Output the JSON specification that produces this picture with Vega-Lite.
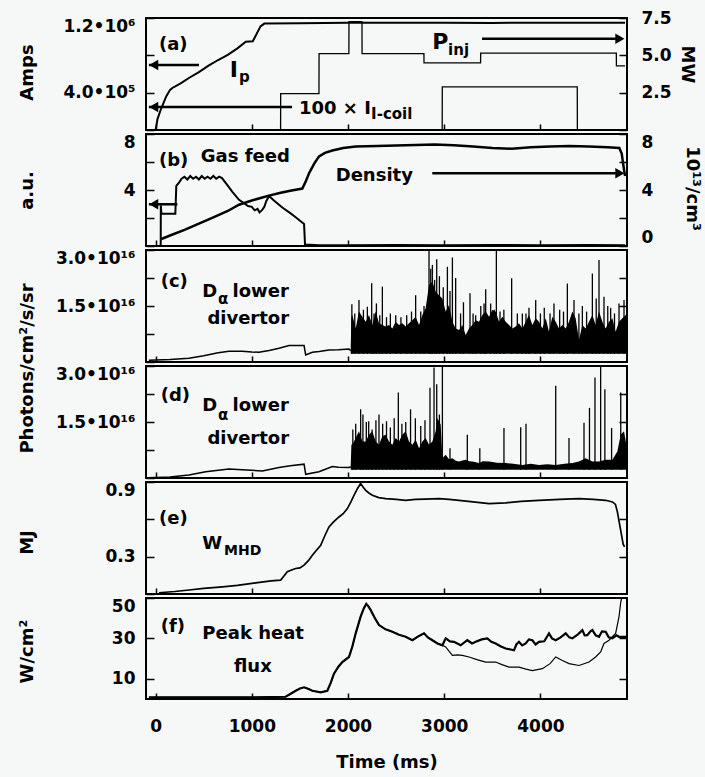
{
  "$schema": "https://vega.github.io/schema/vega-lite/v6.json",
  "background": "#f6f8f7",
  "padding": {"left": 17, "top": 8, "right": 5, "bottom": 5},
  "bounds": "flush",
  "spacing": 4,
  "config": {
    "font": "DejaVu Sans",
    "view": {"stroke": "#000", "strokeWidth": 2},
    "axis": {"domain": false, "grid": false, "tickColor": "#000", "tickWidth": 1.5, "labelColor": "#000", "titleColor": "#000", "labelFont": "DejaVu Sans", "titleFont": "DejaVu Sans", "labelFontWeight": "bold", "titleFontWeight": "bold", "labelFontSize": 17, "titleFontSize": 18},
    "axisLeft": {"tickSize": -8, "labelPadding": 19, "labelFlush": true},
    "axisRight": {"tickSize": -8, "labelPadding": 22},
    "axisBottom": {"tickSize": -6, "labelPadding": 25},
    "text": {"font": "DejaVu Sans", "fontWeight": "bold", "fontSize": 18, "color": "#000", "align": "left", "baseline": "middle"},
    "line": {"color": "#000", "strokeWidth": 1.5},
    "rule": {"color": "#000"},
    "area": {"color": "#000"},
    "point": {"color": "#000", "filled": true, "opacity": 1}
  },
  "datasets": {
    "ip": [{"t":0,"amps":0},{"t":20,"amps":120000},{"t":56,"amps":225000},{"t":110,"amps":360000},{"t":150,"amps":430000},{"t":174,"amps":450000},{"t":260,"amps":500000},{"t":350,"amps":560000},{"t":450,"amps":620000},{"t":550,"amps":690000},{"t":650,"amps":750000},{"t":750,"amps":805000},{"t":850,"amps":875000},{"t":937,"amps":945000},{"t":1010,"amps":950000},{"t":1050,"amps":1030000},{"t":1090,"amps":1110000},{"t":1130,"amps":1140000},{"t":1500,"amps":1145000},{"t":2000,"amps":1148000},{"t":2500,"amps":1150000},{"t":3000,"amps":1150000},{"t":3500,"amps":1147000},{"t":4000,"amps":1150000},{"t":4500,"amps":1150000},{"t":4880,"amps":1148000}],
    "icoil": [{"t":0,"amps":0},{"t":2979,"amps":0},{"t":2980,"amps":461000},{"t":4383,"amps":461000},{"t":4384,"amps":0},{"t":4880,"amps":0}],
    "pinj": [{"t":0,"mw":0},{"t":1299,"mw":0},{"t":1300,"mw":2.43},{"t":1698,"mw":2.43},{"t":1699,"mw":5.11},{"t":2009,"mw":5.11},{"t":2010,"mw":7.25},{"t":2145,"mw":7.25},{"t":2146,"mw":5.11},{"t":2789,"mw":5.11},{"t":2790,"mw":4.5},{"t":3378,"mw":4.5},{"t":3379,"mw":5.15},{"t":4789,"mw":5.15},{"t":4790,"mw":4.3},{"t":4880,"mw":4.3}],
    "aArrows": [{"t":451,"t2":-70,"amps":696000},{"t":1418,"t2":-70,"amps":246000},{"t":3393,"t2":4835,"amps":978000}],
    "aHeads": [{"t":-20,"amps":696000,"dir":"left"},{"t":-20,"amps":246000,"dir":"left"},{"t":4826,"amps":978000,"dir":"right"}],
    "aText": [{"t":35,"amps":916000,"label":"(a)","kind":"main"},{"t":1490,"amps":225000,"label":"100 × I","kind":"main"},{"t":770,"amps":648000,"label":"I","kind":"big"},{"t":2876,"amps":948000,"label":"P","kind":"big"},{"t":867,"amps":568000,"label":"p","kind":"sub"},{"t":3040,"amps":857000,"label":"inj","kind":"sub"},{"t":2240,"amps":171000,"label":"I-coil","kind":"sub"}],
    "gas": [{"t":53,"v":0.05},{"t":54,"v":2.9},{"t":60,"v":2.3},{"t":205,"v":2.3},{"t":215,"v":4.3},{"t":245,"v":4.55},{"t":270,"v":4.8},{"t":300,"v":4.95},{"t":330,"v":4.75},{"t":360,"v":5.0},{"t":390,"v":4.8},{"t":420,"v":4.95},{"t":450,"v":4.75},{"t":480,"v":5.0},{"t":510,"v":4.8},{"t":540,"v":4.95},{"t":570,"v":4.8},{"t":600,"v":5.0},{"t":630,"v":4.8},{"t":660,"v":4.95},{"t":690,"v":4.85},{"t":740,"v":4.4},{"t":800,"v":3.85},{"t":867,"v":3.3},{"t":920,"v":3.05},{"t":960,"v":2.85},{"t":1000,"v":2.8},{"t":1030,"v":2.55},{"t":1060,"v":2.65},{"t":1080,"v":2.4},{"t":1110,"v":2.6},{"t":1130,"v":2.8},{"t":1150,"v":3.2},{"t":1179,"v":3.57},{"t":1230,"v":3.25},{"t":1317,"v":2.75},{"t":1400,"v":2.35},{"t":1456,"v":2.05},{"t":1543,"v":1.58},{"t":1553,"v":0.1},{"t":1700,"v":0.06},{"t":2000,"v":0.05},{"t":2500,"v":0.08},{"t":3000,"v":0.05},{"t":3500,"v":0.08},{"t":4000,"v":0.06},{"t":4500,"v":0.08},{"t":4880,"v":0.06}],
    "dens": [{"t":60,"v":0.5},{"t":150,"v":0.75},{"t":300,"v":1.15},{"t":450,"v":1.6},{"t":600,"v":2.05},{"t":750,"v":2.5},{"t":867,"v":2.95},{"t":1000,"v":3.25},{"t":1100,"v":3.45},{"t":1179,"v":3.6},{"t":1300,"v":3.8},{"t":1400,"v":3.95},{"t":1525,"v":4.1},{"t":1560,"v":4.6},{"t":1595,"v":5.2},{"t":1650,"v":5.9},{"t":1699,"v":6.4},{"t":1760,"v":6.65},{"t":1837,"v":6.82},{"t":1950,"v":7.0},{"t":2080,"v":7.1},{"t":2300,"v":7.15},{"t":2600,"v":7.2},{"t":2900,"v":7.25},{"t":3100,"v":7.2},{"t":3300,"v":7.1},{"t":3500,"v":7.0},{"t":3700,"v":6.95},{"t":3900,"v":7.05},{"t":4100,"v":7.1},{"t":4300,"v":7.15},{"t":4500,"v":7.1},{"t":4700,"v":7.05},{"t":4820,"v":7.0},{"t":4845,"v":6.6},{"t":4870,"v":5.4},{"t":4880,"v":5.0}],
    "bArrows": [{"t":226,"t2":-70,"v":2.98},{"t":2876,"t2":4835,"v":5.2}],
    "bHeads": [{"t":-20,"v":2.98,"dir":"left"},{"t":4826,"v":5.2,"dir":"right"}],
    "bText": [{"t":35,"v":6.04,"label":"(b)"},{"t":469,"v":6.37,"label":"Gas feed"},{"t":1872,"v":4.98,"label":"Density"}],
    "cBase": [{"t":-70,"ph":5e14},{"t":150,"ph":7e14},{"t":347,"ph":1.0e15},{"t":500,"ph":1.7e15},{"t":650,"ph":2.5e15},{"t":763,"ph":2.9e15},{"t":900,"ph":2.9e15},{"t":1000,"ph":2.7e15},{"t":1075,"ph":2.6e15},{"t":1180,"ph":3.1e15},{"t":1283,"ph":3.7e15},{"t":1387,"ph":4.4e15},{"t":1543,"ph":4.4e15},{"t":1560,"ph":1.9e15},{"t":1629,"ph":2.6e15},{"t":1700,"ph":2.8e15},{"t":1802,"ph":3.2e15},{"t":1900,"ph":3.3e15},{"t":2010,"ph":3.5e15},{"t":2028,"ph":3.0e15}],
    "cEnv": [{"t":2028,"hi":3.5e15,"lo":2.2e15},{"t":2035,"hi":1.2e16,"lo":2.2e15},{"t":2045,"hi":1.26e16,"lo":2.2e15},{"t":2080,"hi":0.90e16,"lo":2.2e15},{"t":2114,"hi":1.35e16,"lo":2.2e15},{"t":2149,"hi":1.21e16,"lo":2.2e15},{"t":2184,"hi":1.08e16,"lo":2.2e15},{"t":2218,"hi":1.26e16,"lo":2.2e15},{"t":2253,"hi":0.99e16,"lo":2.2e15},{"t":2287,"hi":1.35e16,"lo":2.2e15},{"t":2322,"hi":1.04e16,"lo":2.2e15},{"t":2357,"hi":0.99e16,"lo":2.2e15},{"t":2391,"hi":0.95e16,"lo":2.2e15},{"t":2426,"hi":0.99e16,"lo":2.2e15},{"t":2461,"hi":0.90e16,"lo":2.2e15},{"t":2495,"hi":1.08e16,"lo":2.2e15},{"t":2530,"hi":0.99e16,"lo":2.2e15},{"t":2565,"hi":1.04e16,"lo":2.2e15},{"t":2599,"hi":0.95e16,"lo":2.2e15},{"t":2634,"hi":1.04e16,"lo":2.2e15},{"t":2669,"hi":1.12e16,"lo":2.2e15},{"t":2703,"hi":1.21e16,"lo":2.2e15},{"t":2738,"hi":0.99e16,"lo":2.2e15},{"t":2773,"hi":1.26e16,"lo":2.2e15},{"t":2807,"hi":1.44e16,"lo":2.2e15},{"t":2842,"hi":2.06e16,"lo":2.2e15},{"t":2877,"hi":2.15e16,"lo":2.2e15},{"t":2911,"hi":1.88e16,"lo":2.2e15},{"t":2946,"hi":1.79e16,"lo":2.2e15},{"t":2981,"hi":1.70e16,"lo":2.2e15},{"t":3015,"hi":1.35e16,"lo":2.2e15},{"t":3050,"hi":1.53e16,"lo":2.2e15},{"t":3085,"hi":1.08e16,"lo":2.2e15},{"t":3119,"hi":0.90e16,"lo":2.2e15},{"t":3154,"hi":0.86e16,"lo":2.2e15},{"t":3188,"hi":0.99e16,"lo":2.2e15},{"t":3223,"hi":0.72e16,"lo":2.2e15},{"t":3258,"hi":0.90e16,"lo":2.2e15},{"t":3292,"hi":0.99e16,"lo":2.2e15},{"t":3327,"hi":1.12e16,"lo":2.2e15},{"t":3362,"hi":1.08e16,"lo":2.2e15},{"t":3396,"hi":1.26e16,"lo":2.2e15},{"t":3431,"hi":1.35e16,"lo":2.2e15},{"t":3466,"hi":1.21e16,"lo":2.2e15},{"t":3500,"hi":1.39e16,"lo":2.2e15},{"t":3535,"hi":1.35e16,"lo":2.2e15},{"t":3570,"hi":1.08e16,"lo":2.2e15},{"t":3604,"hi":1.21e16,"lo":2.2e15},{"t":3639,"hi":1.08e16,"lo":2.2e15},{"t":3674,"hi":0.99e16,"lo":2.2e15},{"t":3708,"hi":0.90e16,"lo":2.2e15},{"t":3743,"hi":0.95e16,"lo":2.2e15},{"t":3777,"hi":1.04e16,"lo":2.2e15},{"t":3812,"hi":0.90e16,"lo":2.2e15},{"t":3847,"hi":1.08e16,"lo":2.2e15},{"t":3881,"hi":1.26e16,"lo":2.2e15},{"t":3916,"hi":0.99e16,"lo":2.2e15},{"t":3951,"hi":1.17e16,"lo":2.2e15},{"t":3985,"hi":1.08e16,"lo":2.2e15},{"t":4020,"hi":0.90e16,"lo":2.2e15},{"t":4055,"hi":1.17e16,"lo":2.2e15},{"t":4089,"hi":0.81e16,"lo":2.2e15},{"t":4124,"hi":1.21e16,"lo":2.2e15},{"t":4159,"hi":1.08e16,"lo":2.2e15},{"t":4193,"hi":0.90e16,"lo":2.2e15},{"t":4228,"hi":0.99e16,"lo":2.2e15},{"t":4263,"hi":0.90e16,"lo":2.2e15},{"t":4297,"hi":1.08e16,"lo":2.2e15},{"t":4332,"hi":1.35e16,"lo":2.2e15},{"t":4366,"hi":1.17e16,"lo":2.2e15},{"t":4401,"hi":0.59e16,"lo":2.2e15},{"t":4436,"hi":0.99e16,"lo":2.2e15},{"t":4470,"hi":0.90e16,"lo":2.2e15},{"t":4505,"hi":1.08e16,"lo":2.2e15},{"t":4540,"hi":1.26e16,"lo":2.2e15},{"t":4574,"hi":0.99e16,"lo":2.2e15},{"t":4609,"hi":1.35e16,"lo":2.2e15},{"t":4644,"hi":1.08e16,"lo":2.2e15},{"t":4678,"hi":0.90e16,"lo":2.2e15},{"t":4713,"hi":1.08e16,"lo":2.2e15},{"t":4748,"hi":1.17e16,"lo":2.2e15},{"t":4782,"hi":0.81e16,"lo":2.2e15},{"t":4817,"hi":1.08e16,"lo":2.2e15},{"t":4852,"hi":1.17e16,"lo":2.2e15},{"t":4886,"hi":1.26e16,"lo":2.2e15},{"t":4900,"hi":1.2e16,"lo":2.2e15}],
    "cSpikes": [{"t":2040,"peak":1.55e16,"lo":2.2e15},{"t":2070,"peak":1.3e16,"lo":2.2e15},{"t":2114,"peak":1.66e16,"lo":2.2e15},{"t":2160,"peak":1.4e16,"lo":2.2e15},{"t":2201,"peak":1.48e16,"lo":2.2e15},{"t":2246,"peak":2.11e16,"lo":2.2e15},{"t":2270,"peak":1.3e16,"lo":2.2e15},{"t":2295,"peak":1.57e16,"lo":2.2e15},{"t":2330,"peak":1.25e16,"lo":2.2e15},{"t":2357,"peak":2.02e16,"lo":2.2e15},{"t":2400,"peak":1.2e16,"lo":2.2e15},{"t":2440,"peak":1.3e16,"lo":2.2e15},{"t":2496,"peak":1.25e16,"lo":2.2e15},{"t":2550,"peak":1.2e16,"lo":2.2e15},{"t":2610,"peak":1.25e16,"lo":2.2e15},{"t":2660,"peak":1.35e16,"lo":2.2e15},{"t":2703,"peak":1.79e16,"lo":2.2e15},{"t":2756,"peak":1.35e16,"lo":2.2e15},{"t":2790,"peak":1.5e16,"lo":2.2e15},{"t":2842,"peak":3.0e16,"lo":2.2e15},{"t":2860,"peak":2.5e16,"lo":2.2e15},{"t":2877,"peak":2.6e16,"lo":2.2e15},{"t":2900,"peak":2.2e16,"lo":2.2e15},{"t":2922,"peak":2.75e16,"lo":2.2e15},{"t":2950,"peak":2.3e16,"lo":2.2e15},{"t":2990,"peak":2.0e16,"lo":2.2e15},{"t":3033,"peak":2.55e16,"lo":2.2e15},{"t":3060,"peak":1.9e16,"lo":2.2e15},{"t":3085,"peak":2.8e16,"lo":2.2e15},{"t":3119,"peak":2.25e16,"lo":2.2e15},{"t":3170,"peak":1.3e16,"lo":2.2e15},{"t":3200,"peak":1.6e16,"lo":2.2e15},{"t":3268,"peak":1.84e16,"lo":2.2e15},{"t":3300,"peak":1.3e16,"lo":2.2e15},{"t":3327,"peak":1.25e16,"lo":2.2e15},{"t":3380,"peak":1.5e16,"lo":2.2e15},{"t":3414,"peak":1.57e16,"lo":2.2e15},{"t":3431,"peak":1.95e16,"lo":2.2e15},{"t":3483,"peak":1.57e16,"lo":2.2e15},{"t":3520,"peak":1.4e16,"lo":2.2e15},{"t":3542,"peak":3.0e16,"lo":2.2e15},{"t":3580,"peak":1.35e16,"lo":2.2e15},{"t":3620,"peak":1.4e16,"lo":2.2e15},{"t":3701,"peak":2.24e16,"lo":2.2e15},{"t":3760,"peak":1.3e16,"lo":2.2e15},{"t":3812,"peak":1.3e16,"lo":2.2e15},{"t":3850,"peak":1.3e16,"lo":2.2e15},{"t":3881,"peak":1.45e16,"lo":2.2e15},{"t":3951,"peak":1.66e16,"lo":2.2e15},{"t":4000,"peak":1.3e16,"lo":2.2e15},{"t":4040,"peak":1.45e16,"lo":2.2e15},{"t":4100,"peak":1.3e16,"lo":2.2e15},{"t":4141,"peak":1.57e16,"lo":2.2e15},{"t":4200,"peak":1.4e16,"lo":2.2e15},{"t":4240,"peak":1.35e16,"lo":2.2e15},{"t":4280,"peak":2.1e16,"lo":2.2e15},{"t":4349,"peak":1.66e16,"lo":2.2e15},{"t":4400,"peak":1.3e16,"lo":2.2e15},{"t":4436,"peak":1.5e16,"lo":2.2e15},{"t":4480,"peak":1.35e16,"lo":2.2e15},{"t":4540,"peak":2.37e16,"lo":2.2e15},{"t":4580,"peak":1.7e16,"lo":2.2e15},{"t":4609,"peak":2.73e16,"lo":2.2e15},{"t":4661,"peak":1.75e16,"lo":2.2e15},{"t":4700,"peak":1.5e16,"lo":2.2e15},{"t":4730,"peak":1.45e16,"lo":2.2e15},{"t":4770,"peak":1.3e16,"lo":2.2e15},{"t":4817,"peak":1.57e16,"lo":2.2e15},{"t":4869,"peak":1.66e16,"lo":2.2e15}],
    "cText": [{"t":53,"ph":2.13e16,"label":"(c)","kind":"main"},{"t":486,"ph":1.88e16,"label":"D","kind":"main"},{"t":649,"ph":1.69e16,"label":"α","kind":"sub"},{"t":800,"ph":1.88e16,"label":"lower","kind":"main"},{"t":538,"ph":1.15e16,"label":"divertor","kind":"main"}],
    "dBase": [{"t":-70,"ph":1e14},{"t":150,"ph":3e14},{"t":347,"ph":8e14},{"t":520,"ph":1.7e15},{"t":763,"ph":2.4e15},{"t":900,"ph":2.2e15},{"t":1109,"ph":1.9e15},{"t":1283,"ph":2.8e15},{"t":1400,"ph":3.3e15},{"t":1543,"ph":3.7e15},{"t":1560,"ph":1.0e15},{"t":1698,"ph":1.7e15},{"t":1837,"ph":3.1e15},{"t":1900,"ph":2.9e15},{"t":2010,"ph":2.8e15},{"t":2028,"ph":3.0e15}],
    "dEnv": [{"t":2028,"hi":3.0e15,"lo":2.2e15},{"t":2035,"hi":0.9e16,"lo":2.2e15},{"t":2045,"hi":0.89e16,"lo":2.2e15},{"t":2080,"hi":1.07e16,"lo":2.2e15},{"t":2114,"hi":1.25e16,"lo":2.2e15},{"t":2149,"hi":0.98e16,"lo":2.2e15},{"t":2184,"hi":0.98e16,"lo":2.2e15},{"t":2218,"hi":1.16e16,"lo":2.2e15},{"t":2253,"hi":1.25e16,"lo":2.2e15},{"t":2287,"hi":0.98e16,"lo":2.2e15},{"t":2322,"hi":0.89e16,"lo":2.2e15},{"t":2357,"hi":1.12e16,"lo":2.2e15},{"t":2391,"hi":1.16e16,"lo":2.2e15},{"t":2426,"hi":0.98e16,"lo":2.2e15},{"t":2461,"hi":0.89e16,"lo":2.2e15},{"t":2495,"hi":1.07e16,"lo":2.2e15},{"t":2530,"hi":0.98e16,"lo":2.2e15},{"t":2565,"hi":1.16e16,"lo":2.2e15},{"t":2599,"hi":1.25e16,"lo":2.2e15},{"t":2634,"hi":0.98e16,"lo":2.2e15},{"t":2669,"hi":0.89e16,"lo":2.2e15},{"t":2703,"hi":1.03e16,"lo":2.2e15},{"t":2738,"hi":0.80e16,"lo":2.2e15},{"t":2773,"hi":0.98e16,"lo":2.2e15},{"t":2807,"hi":1.07e16,"lo":2.2e15},{"t":2842,"hi":0.89e16,"lo":2.2e15},{"t":2877,"hi":0.98e16,"lo":2.2e15},{"t":2911,"hi":1.25e16,"lo":2.2e15},{"t":2929,"hi":1.61e16,"lo":2.2e15},{"t":2963,"hi":1.43e16,"lo":2.2e15},{"t":2981,"hi":0.53e16,"lo":2.2e15},{"t":3015,"hi":0.62e16,"lo":2.2e15},{"t":3050,"hi":0.50e16,"lo":2.2e15},{"t":3085,"hi":0.53e16,"lo":2.2e15},{"t":3120,"hi":0.46e16,"lo":2.2e15},{"t":3154,"hi":0.44e16,"lo":2.2e15},{"t":3190,"hi":0.47e16,"lo":2.2e15},{"t":3223,"hi":0.49e16,"lo":2.2e15},{"t":3260,"hi":0.45e16,"lo":2.2e15},{"t":3292,"hi":0.44e16,"lo":2.2e15},{"t":3330,"hi":0.42e16,"lo":2.2e15},{"t":3362,"hi":0.40e16,"lo":2.2e15},{"t":3400,"hi":0.45e16,"lo":2.2e15},{"t":3466,"hi":0.44e16,"lo":2.2e15},{"t":3550,"hi":0.41e16,"lo":2.2e15},{"t":3639,"hi":0.40e16,"lo":2.2e15},{"t":3720,"hi":0.38e16,"lo":2.2e15},{"t":3812,"hi":0.35e16,"lo":2.2e15},{"t":3900,"hi":0.38e16,"lo":2.2e15},{"t":3985,"hi":0.35e16,"lo":2.2e15},{"t":4070,"hi":0.37e16,"lo":2.2e15},{"t":4159,"hi":0.35e16,"lo":2.2e15},{"t":4250,"hi":0.38e16,"lo":2.2e15},{"t":4332,"hi":0.40e16,"lo":2.2e15},{"t":4401,"hi":0.44e16,"lo":2.2e15},{"t":4470,"hi":0.53e16,"lo":2.2e15},{"t":4540,"hi":0.44e16,"lo":2.2e15},{"t":4609,"hi":0.44e16,"lo":2.2e15},{"t":4678,"hi":0.49e16,"lo":2.2e15},{"t":4748,"hi":0.49e16,"lo":2.2e15},{"t":4800,"hi":0.71e16,"lo":2.2e15},{"t":4834,"hi":1.16e16,"lo":2.2e15},{"t":4869,"hi":1.25e16,"lo":2.2e15},{"t":4893,"hi":0.89e16,"lo":2.2e15},{"t":4900,"hi":0.8e16,"lo":2.2e15}],
    "dSpikes": [{"t":2050,"peak":1.3e16,"lo":2.2e15},{"t":2080,"peak":1.45e16,"lo":2.2e15},{"t":2131,"peak":1.84e16,"lo":2.2e15},{"t":2155,"peak":1.7e16,"lo":2.2e15},{"t":2190,"peak":1.5e16,"lo":2.2e15},{"t":2215,"peak":1.52e16,"lo":2.2e15},{"t":2250,"peak":1.3e16,"lo":2.2e15},{"t":2290,"peak":1.55e16,"lo":2.2e15},{"t":2322,"peak":1.7e16,"lo":2.2e15},{"t":2360,"peak":1.45e16,"lo":2.2e15},{"t":2400,"peak":1.52e16,"lo":2.2e15},{"t":2440,"peak":1.35e16,"lo":2.2e15},{"t":2480,"peak":1.6e16,"lo":2.2e15},{"t":2523,"peak":2.29e16,"lo":2.2e15},{"t":2560,"peak":1.45e16,"lo":2.2e15},{"t":2600,"peak":1.5e16,"lo":2.2e15},{"t":2650,"peak":1.84e16,"lo":2.2e15},{"t":2700,"peak":1.6e16,"lo":2.2e15},{"t":2756,"peak":1.39e16,"lo":2.2e15},{"t":2800,"peak":1.55e16,"lo":2.2e15},{"t":2852,"peak":2.42e16,"lo":2.2e15},{"t":2894,"peak":2.96e16,"lo":2.2e15},{"t":2922,"peak":2.51e16,"lo":2.2e15},{"t":2950,"peak":1.7e16,"lo":2.2e15},{"t":2981,"peak":3.0e16,"lo":2.2e15},{"t":3060,"peak":0.8e16,"lo":2.2e15},{"t":3240,"peak":1.16e16,"lo":2.2e15},{"t":3370,"peak":0.8e16,"lo":2.2e15},{"t":3621,"peak":1.34e16,"lo":2.2e15},{"t":3795,"peak":1.36e16,"lo":2.2e15},{"t":3850,"peak":1.45e16,"lo":2.2e15},{"t":4159,"peak":2.47e16,"lo":2.2e15},{"t":4297,"peak":1.07e16,"lo":2.2e15},{"t":4453,"peak":1.48e16,"lo":2.2e15},{"t":4510,"peak":1.88e16,"lo":2.2e15},{"t":4567,"peak":2.69e16,"lo":2.2e15},{"t":4626,"peak":3.0e16,"lo":2.2e15},{"t":4670,"peak":2.38e16,"lo":2.2e15},{"t":4740,"peak":1.34e16,"lo":2.2e15},{"t":4835,"peak":2.29e16,"lo":2.2e15}],
    "dText": [{"t":53,"ph":2.19e16,"label":"(d)","kind":"main"},{"t":486,"ph":1.93e16,"label":"D","kind":"main"},{"t":649,"ph":1.70e16,"label":"α","kind":"sub"},{"t":800,"ph":1.93e16,"label":"lower","kind":"main"},{"t":538,"ph":1.05e16,"label":"divertor","kind":"main"}],
    "wmhd": [{"t":35,"mj":0.01},{"t":200,"mj":0.02},{"t":347,"mj":0.032},{"t":500,"mj":0.045},{"t":694,"mj":0.058},{"t":850,"mj":0.07},{"t":1040,"mj":0.09},{"t":1200,"mj":0.105},{"t":1300,"mj":0.112},{"t":1330,"mj":0.14},{"t":1369,"mj":0.179},{"t":1420,"mj":0.195},{"t":1456,"mj":0.205},{"t":1500,"mj":0.21},{"t":1543,"mj":0.232},{"t":1590,"mj":0.27},{"t":1629,"mj":0.312},{"t":1670,"mj":0.35},{"t":1716,"mj":0.392},{"t":1760,"mj":0.47},{"t":1802,"mj":0.539},{"t":1850,"mj":0.58},{"t":1906,"mj":0.619},{"t":1950,"mj":0.645},{"t":1993,"mj":0.686},{"t":2030,"mj":0.74},{"t":2062,"mj":0.793},{"t":2100,"mj":0.85},{"t":2131,"mj":0.887},{"t":2160,"mj":0.855},{"t":2184,"mj":0.833},{"t":2220,"mj":0.81},{"t":2253,"mj":0.793},{"t":2320,"mj":0.775},{"t":2391,"mj":0.766},{"t":2500,"mj":0.76},{"t":2599,"mj":0.753},{"t":2700,"mj":0.76},{"t":2800,"mj":0.762},{"t":2946,"mj":0.766},{"t":3050,"mj":0.76},{"t":3154,"mj":0.753},{"t":3300,"mj":0.74},{"t":3466,"mj":0.726},{"t":3639,"mj":0.732},{"t":3800,"mj":0.745},{"t":3985,"mj":0.753},{"t":4200,"mj":0.76},{"t":4401,"mj":0.766},{"t":4550,"mj":0.76},{"t":4678,"mj":0.753},{"t":4748,"mj":0.74},{"t":4780,"mj":0.72},{"t":4800,"mj":0.66},{"t":4834,"mj":0.513},{"t":4860,"mj":0.4},{"t":4875,"mj":0.379}],
    "eText": [{"t":35,"mj":0.6,"label":"(e)","kind":"main"},{"t":486,"mj":0.4,"label":"W","kind":"main"},{"t":711,"mj":0.347,"label":"MHD","kind":"sub"}],
    "fluxA": [{"t":-70,"q":0.8},{"t":500,"q":0.8},{"t":1000,"q":0.8},{"t":1352,"q":1.1},{"t":1400,"q":2.5},{"t":1456,"q":4.1},{"t":1500,"q":5.2},{"t":1543,"q":5.8},{"t":1590,"q":5.0},{"t":1629,"q":4.1},{"t":1716,"q":3.3},{"t":1785,"q":4.1},{"t":1820,"q":8.0},{"t":1854,"q":12.5},{"t":1900,"q":16.0},{"t":1941,"q":18.3},{"t":2010,"q":20.8},{"t":2045,"q":26},{"t":2080,"q":32.5},{"t":2131,"q":40.8},{"t":2165,"q":45},{"t":2190,"q":47.1},{"t":2210,"q":46},{"t":2235,"q":44.1},{"t":2280,"q":40},{"t":2322,"q":36.6},{"t":2390,"q":34.5},{"t":2461,"q":33.3},{"t":2530,"q":31.8},{"t":2599,"q":30.8},{"t":2669,"q":29.1},{"t":2730,"q":31},{"t":2790,"q":32.5},{"t":2830,"q":30.5},{"t":2877,"q":29.1},{"t":2930,"q":27.5},{"t":2981,"q":26.6},{"t":3015,"q":30.0},{"t":3060,"q":28.5},{"t":3102,"q":28.3},{"t":3171,"q":26.6},{"t":3240,"q":29.1},{"t":3290,"q":27.5},{"t":3327,"q":28.3},{"t":3390,"q":29.5},{"t":3448,"q":30.0},{"t":3490,"q":28.3},{"t":3535,"q":27.5},{"t":3590,"q":26.0},{"t":3639,"q":25.0},{"t":3690,"q":24.5},{"t":3725,"q":24.1},{"t":3750,"q":27},{"t":3777,"q":28.3},{"t":3810,"q":26.5},{"t":3847,"q":27.5},{"t":3880,"q":29.5},{"t":3916,"q":29.1},{"t":3950,"q":27},{"t":3985,"q":28.3},{"t":4040,"q":28.6},{"t":4089,"q":32.5},{"t":4120,"q":30},{"t":4159,"q":29.1},{"t":4210,"q":30.5},{"t":4263,"q":32.5},{"t":4300,"q":30.5},{"t":4332,"q":30.0},{"t":4390,"q":32},{"t":4436,"q":34.1},{"t":4460,"q":31.5},{"t":4488,"q":31.6},{"t":4520,"q":33.5},{"t":4540,"q":34.1},{"t":4575,"q":31.5},{"t":4609,"q":30.8},{"t":4640,"q":33.5},{"t":4678,"q":33.3},{"t":4710,"q":30.5},{"t":4748,"q":30.0},{"t":4790,"q":31.5},{"t":4817,"q":30.8},{"t":4860,"q":30.8},{"t":4900,"q":30.8}],
    "fluxB": [{"t":-70,"q":0.8},{"t":500,"q":0.8},{"t":1000,"q":0.8},{"t":1352,"q":1.1},{"t":1400,"q":2.5},{"t":1456,"q":4.1},{"t":1500,"q":5.2},{"t":1543,"q":5.8},{"t":1590,"q":5.0},{"t":1629,"q":4.1},{"t":1716,"q":3.3},{"t":1785,"q":4.1},{"t":1820,"q":8.0},{"t":1854,"q":12.5},{"t":1900,"q":16.0},{"t":1941,"q":18.3},{"t":2010,"q":20.8},{"t":2045,"q":26},{"t":2080,"q":32.5},{"t":2131,"q":40.8},{"t":2165,"q":45},{"t":2190,"q":47.1},{"t":2210,"q":46},{"t":2235,"q":44.1},{"t":2280,"q":40},{"t":2322,"q":36.6},{"t":2390,"q":34.5},{"t":2461,"q":33.3},{"t":2530,"q":31.8},{"t":2599,"q":30.8},{"t":2669,"q":29.1},{"t":2730,"q":31},{"t":2790,"q":32.5},{"t":2830,"q":30.5},{"t":2877,"q":29.1},{"t":2930,"q":27.5},{"t":2981,"q":26.6},{"t":3015,"q":25.8},{"t":3085,"q":21.6},{"t":3140,"q":21.8},{"t":3188,"q":21.6},{"t":3258,"q":20.8},{"t":3340,"q":19.5},{"t":3431,"q":18.3},{"t":3535,"q":18.3},{"t":3600,"q":17},{"t":3674,"q":15.8},{"t":3777,"q":15.8},{"t":3850,"q":14.8},{"t":3916,"q":14.1},{"t":4020,"q":15.0},{"t":4100,"q":17.5},{"t":4159,"q":20.8},{"t":4228,"q":19.1},{"t":4297,"q":17.5},{"t":4401,"q":16.6},{"t":4505,"q":18.3},{"t":4574,"q":20.8},{"t":4626,"q":23.3},{"t":4661,"q":27.5},{"t":4713,"q":29.1},{"t":4748,"q":30.8},{"t":4782,"q":32.5},{"t":4817,"q":40.8},{"t":4835,"q":48},{"t":4845,"q":50}],
    "fText": [{"t":53,"q":35.4,"label":"(f)"},{"t":486,"q":32.1,"label":"Peak heat"},{"t":815,"q":15.9,"label":"flux"}]
  },
  "vconcat": [
    {
      "width": 481, "height": 112,
      "encoding": {"x": {"field": "t", "type": "quantitative", "scale": {"domain": [-100, 4900]}, "axis": {"values": [0,1000,2000,3000,4000], "labels": false, "title": null}}},
      "layer": [
        {"data": {"name": "ip"}, "mark": {"type": "line", "strokeWidth": 2}, "encoding": {"y": {"field": "amps", "type": "quantitative", "scale": {"domain": [0, 1200000]}, "axis": {"values": [0,400000,800000,1200000], "labelExpr": "datum.value == 400000 ? '4.0•10⁵' : datum.value == 1200000 ? '1.2•10⁶' : ''", "title": "Amps", "titleX": -119, "titleY": 54, "titleAngle": -90, "titleBaseline": "middle", "titleAlign": "center"}}}},
        {"data": {"name": "icoil"}, "mark": {"type": "line", "strokeWidth": 1.3}, "encoding": {"y": {"field": "amps", "type": "quantitative", "scale": {"domain": [0, 1200000]}, "axis": null}}},
        {"data": {"name": "pinj"}, "mark": {"type": "line", "strokeWidth": 1.3}, "encoding": {"y": {"field": "mw", "type": "quantitative", "scale": {"domain": [0, 7.5]}, "axis": {"orient": "right", "values": [0,2.5,5,7.5], "labelExpr": "datum.value == 0 ? '' : format(datum.value, '.1f')", "labelFlush": false, "title": "MW", "titleX": 59, "titleY": 46, "titleAngle": 90, "titleBaseline": "middle", "titleAlign": "center"}}}},
        {"data": {"name": "aArrows"}, "mark": {"type": "rule", "strokeWidth": 2.5}, "encoding": {"x2": {"field": "t2"}, "y": {"field": "amps", "type": "quantitative", "scale": {"domain": [0, 1200000]}, "axis": null}}},
        {"data": {"name": "aHeads"}, "mark": {"type": "point", "size": 110}, "encoding": {"y": {"field": "amps", "type": "quantitative", "scale": {"domain": [0, 1200000]}, "axis": null}, "shape": {"field": "dir", "type": "nominal", "scale": {"domain": ["left","right"], "range": ["triangle-left","triangle-right"]}, "legend": null}}},
        {"data": {"name": "aText"}, "transform": [{"filter": "datum.kind == 'main'"}], "mark": {"type": "text", "fontSize": 18}, "encoding": {"y": {"field": "amps", "type": "quantitative", "scale": {"domain": [0, 1200000]}, "axis": null}, "text": {"field": "label"}}},
        {"data": {"name": "aText"}, "transform": [{"filter": "datum.kind == 'big'"}], "mark": {"type": "text", "fontSize": 22}, "encoding": {"y": {"field": "amps", "type": "quantitative", "scale": {"domain": [0, 1200000]}, "axis": null}, "text": {"field": "label"}}},
        {"data": {"name": "aText"}, "transform": [{"filter": "datum.kind == 'sub'"}], "mark": {"type": "text", "fontSize": 15}, "encoding": {"y": {"field": "amps", "type": "quantitative", "scale": {"domain": [0, 1200000]}, "axis": null}, "text": {"field": "label"}}}
      ],
      "resolve": {"scale": {"y": "independent"}}
    },
    {
      "width": 481, "height": 112,
      "encoding": {"x": {"field": "t", "type": "quantitative", "scale": {"domain": [-100, 4900]}, "axis": {"values": [0,1000,2000,3000,4000], "labels": false, "title": null}}},
      "layer": [
        {"data": {"name": "gas"}, "mark": {"type": "line", "strokeWidth": 2}, "encoding": {"y": {"field": "v", "type": "quantitative", "scale": {"domain": [0, 8]}, "axis": {"values": [0,2,4,6,8], "labelExpr": "datum.value == 4 || datum.value == 8 ? datum.label : ''", "title": "a.u.", "titleX": -119, "titleY": 56, "titleAngle": -90, "titleBaseline": "middle", "titleAlign": "center"}}}},
        {"data": {"name": "dens"}, "mark": {"type": "line", "strokeWidth": 2.5}, "encoding": {"y": {"field": "v", "type": "quantitative", "scale": {"domain": [0, 8]}, "axis": {"orient": "right", "values": [0,2,4,6,8], "labelExpr": "datum.value == 2 || datum.value == 6 ? '' : datum.label", "labelFlush": true, "title": "10¹³/cm³", "titleX": 64, "titleY": 54, "titleAngle": 90, "titleBaseline": "middle", "titleAlign": "center"}}}},
        {"data": {"name": "bArrows"}, "mark": {"type": "rule", "strokeWidth": 2.5}, "encoding": {"x2": {"field": "t2"}, "y": {"field": "v", "type": "quantitative", "scale": {"domain": [0, 8]}, "axis": null}}},
        {"data": {"name": "bHeads"}, "mark": {"type": "point", "size": 110}, "encoding": {"y": {"field": "v", "type": "quantitative", "scale": {"domain": [0, 8]}, "axis": null}, "shape": {"field": "dir", "type": "nominal", "scale": {"domain": ["left","right"], "range": ["triangle-left","triangle-right"]}, "legend": null}}},
        {"data": {"name": "bText"}, "mark": {"type": "text", "fontSize": 18}, "encoding": {"y": {"field": "v", "type": "quantitative", "scale": {"domain": [0, 8]}, "axis": null}, "text": {"field": "label"}}}
      ],
      "resolve": {"scale": {"y": "independent"}}
    },
    {
      "width": 481, "height": 112,
      "encoding": {"x": {"field": "t", "type": "quantitative", "scale": {"domain": [-100, 4900]}, "axis": {"values": [0,1000,2000,3000,4000], "labels": false, "title": null}}},
      "layer": [
        {"data": {"name": "cBase"}, "mark": {"type": "line", "strokeWidth": 1.5}, "encoding": {"y": {"field": "ph", "type": "quantitative", "scale": {"domain": [0, 3e16]}, "axis": {"values": [0, 7.5e15, 1.5e16, 2.25e16, 3e16], "labelExpr": "datum.value == 1.5e16 ? '1.5•10¹⁶' : datum.value == 3e16 ? '3.0•10¹⁶' : ''", "title": "Photons/cm²/s/sr", "titleX": -119, "titleY": 118, "titleAngle": -90, "titleBaseline": "middle", "titleAlign": "center"}}}},
        {"data": {"name": "cEnv"}, "mark": {"type": "area"}, "encoding": {"y": {"field": "hi", "type": "quantitative", "scale": {"domain": [0, 3e16]}, "axis": {"orient": "right", "values": [7.5e15, 1.5e16, 2.25e16], "labels": false, "title": null}}, "y2": {"field": "lo"}}},
        {"data": {"name": "cSpikes"}, "mark": {"type": "rule", "strokeWidth": 1.3}, "encoding": {"y": {"field": "peak", "type": "quantitative", "scale": {"domain": [0, 3e16]}, "axis": null}, "y2": {"field": "lo"}}},
        {"data": {"name": "cText"}, "transform": [{"filter": "datum.kind == 'main'"}], "mark": {"type": "text", "fontSize": 18}, "encoding": {"y": {"field": "ph", "type": "quantitative", "scale": {"domain": [0, 3e16]}, "axis": null}, "text": {"field": "label"}}},
        {"data": {"name": "cText"}, "transform": [{"filter": "datum.kind == 'sub'"}], "mark": {"type": "text", "fontSize": 15}, "encoding": {"y": {"field": "ph", "type": "quantitative", "scale": {"domain": [0, 3e16]}, "axis": null}, "text": {"field": "label"}}}
      ],
      "resolve": {"scale": {"y": "independent"}}
    },
    {
      "width": 481, "height": 112,
      "encoding": {"x": {"field": "t", "type": "quantitative", "scale": {"domain": [-100, 4900]}, "axis": {"values": [0,1000,2000,3000,4000], "labels": false, "title": null}}},
      "layer": [
        {"data": {"name": "dBase"}, "mark": {"type": "line", "strokeWidth": 1.5}, "encoding": {"y": {"field": "ph", "type": "quantitative", "scale": {"domain": [0, 3e16]}, "axis": {"values": [0, 7.5e15, 1.5e16, 2.25e16, 3e16], "labelExpr": "datum.value == 1.5e16 ? '1.5•10¹⁶' : datum.value == 3e16 ? '3.0•10¹⁶' : ''", "title": null}}}},
        {"data": {"name": "dEnv"}, "mark": {"type": "area"}, "encoding": {"y": {"field": "hi", "type": "quantitative", "scale": {"domain": [0, 3e16]}, "axis": {"orient": "right", "values": [7.5e15, 1.5e16, 2.25e16], "labels": false, "title": null}}, "y2": {"field": "lo"}}},
        {"data": {"name": "dSpikes"}, "mark": {"type": "rule", "strokeWidth": 1.3}, "encoding": {"y": {"field": "peak", "type": "quantitative", "scale": {"domain": [0, 3e16]}, "axis": null}, "y2": {"field": "lo"}}},
        {"data": {"name": "dText"}, "transform": [{"filter": "datum.kind == 'main'"}], "mark": {"type": "text", "fontSize": 18}, "encoding": {"y": {"field": "ph", "type": "quantitative", "scale": {"domain": [0, 3e16]}, "axis": null}, "text": {"field": "label"}}},
        {"data": {"name": "dText"}, "transform": [{"filter": "datum.kind == 'sub'"}], "mark": {"type": "text", "fontSize": 15}, "encoding": {"y": {"field": "ph", "type": "quantitative", "scale": {"domain": [0, 3e16]}, "axis": null}, "text": {"field": "label"}}}
      ],
      "resolve": {"scale": {"y": "independent"}}
    },
    {
      "width": 481, "height": 112,
      "encoding": {"x": {"field": "t", "type": "quantitative", "scale": {"domain": [-100, 4900]}, "axis": {"values": [0,1000,2000,3000,4000], "labels": false, "title": null}}},
      "layer": [
        {"data": {"name": "wmhd"}, "mark": {"type": "line", "strokeWidth": 1.7}, "encoding": {"y": {"field": "mj", "type": "quantitative", "scale": {"domain": [0, 0.9]}, "axis": {"values": [0, 0.3, 0.6, 0.9], "labelExpr": "datum.value == 0.3 || datum.value == 0.9 ? format(datum.value, '.1f') : ''", "title": "MJ", "titleX": -119, "titleY": 60, "titleAngle": -90, "titleBaseline": "middle", "titleAlign": "center"}}}},
        {"data": {"name": "eText"}, "transform": [{"filter": "datum.kind == 'main'"}], "mark": {"type": "text", "fontSize": 18}, "encoding": {"y": {"field": "mj", "type": "quantitative", "scale": {"domain": [0, 0.9]}, "axis": {"orient": "right", "values": [0.3, 0.6], "labels": false, "title": null}}, "text": {"field": "label"}}},
        {"data": {"name": "eText"}, "transform": [{"filter": "datum.kind == 'sub'"}], "mark": {"type": "text", "fontSize": 14}, "encoding": {"y": {"field": "mj", "type": "quantitative", "scale": {"domain": [0, 0.9]}, "axis": null}, "text": {"field": "label"}}}
      ],
      "resolve": {"scale": {"y": "independent"}}
    },
    {
      "width": 481, "height": 101,
      "encoding": {"x": {"field": "t", "type": "quantitative", "scale": {"domain": [-100, 4900]}, "axis": {"values": [0,1000,2000,3000,4000], "format": "d", "title": "Time (ms)", "titleY": 63, "titleBaseline": "middle"}}},
      "layer": [
        {"data": {"name": "fluxA"}, "mark": {"type": "line", "strokeWidth": 2.2}, "encoding": {"y": {"field": "q", "type": "quantitative", "scale": {"domain": [0, 50]}, "axis": {"values": [10, 30, 50], "title": "W/cm²", "titleX": -119, "titleY": 53, "titleAngle": -90, "titleBaseline": "middle", "titleAlign": "center"}}}},
        {"data": {"name": "fluxB"}, "mark": {"type": "line", "strokeWidth": 1.2}, "encoding": {"y": {"field": "q", "type": "quantitative", "scale": {"domain": [0, 50]}, "axis": {"orient": "right", "values": [10, 30], "labels": false, "title": null}}}},
        {"data": {"name": "fText"}, "mark": {"type": "text", "fontSize": 18}, "encoding": {"y": {"field": "q", "type": "quantitative", "scale": {"domain": [0, 50]}, "axis": null}, "text": {"field": "label"}}}
      ],
      "resolve": {"scale": {"y": "independent"}}
    }
  ]
}
